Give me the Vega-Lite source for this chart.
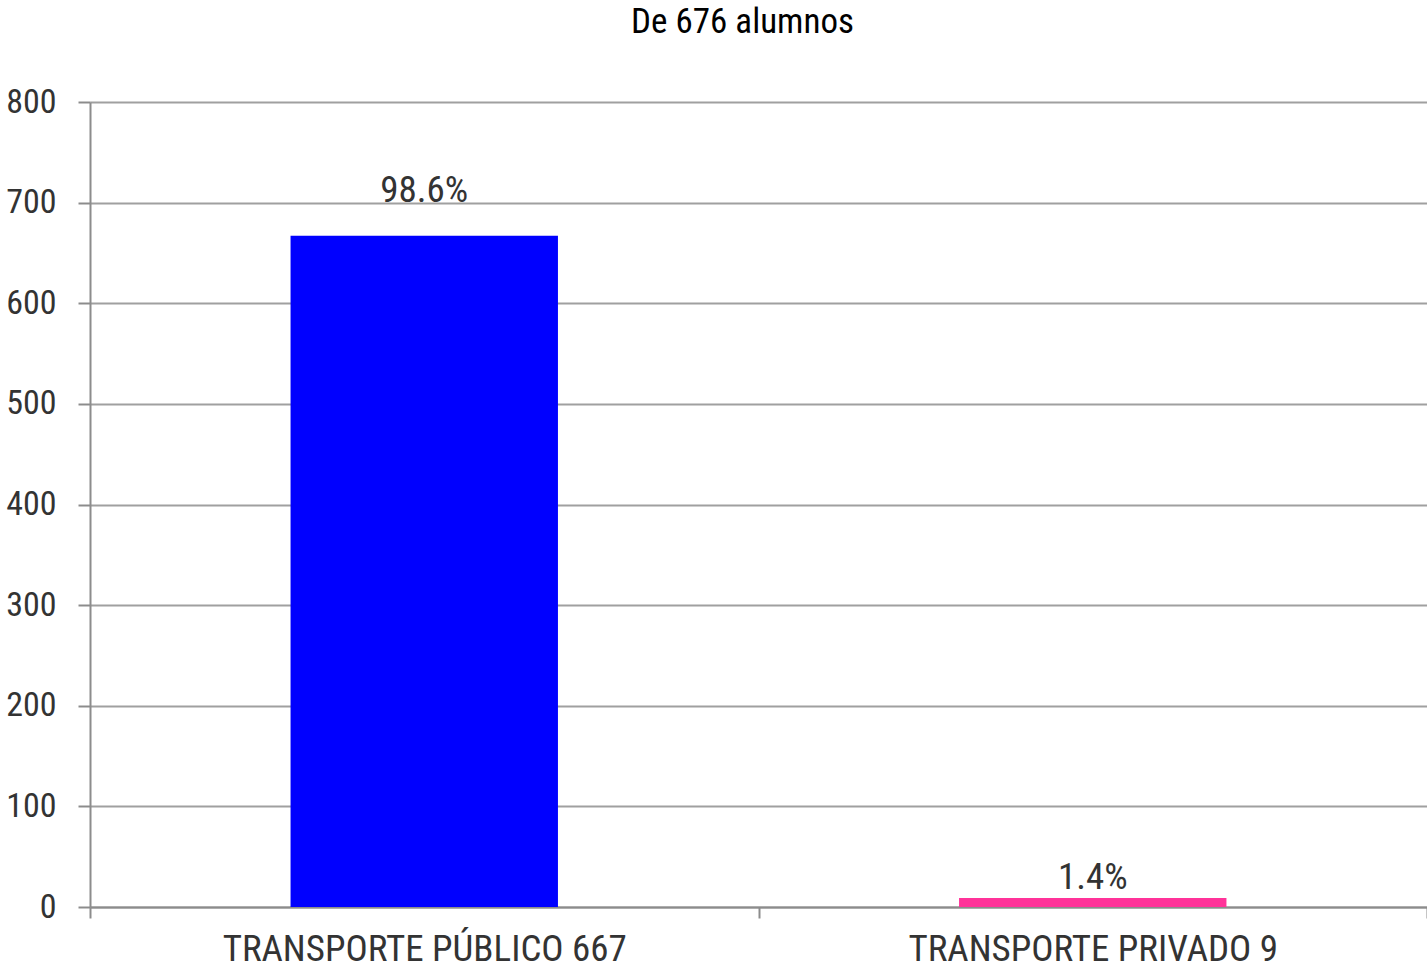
{
  "$schema": "https://vega.github.io/schema/vega-lite/v6.json",
  "autosize": {"type": "none"},
  "padding": {"left": 90, "top": 102, "right": 0, "bottom": 62},
  "width": 1337,
  "height": 805,
  "background": "white",
  "title": {"text": "De 676 alumnos", "fontSize": 35, "fontWeight": "normal", "color": "#000000", "offset": 45, "dx": -16},
  "config": {
    "font": "Arial Narrow, Liberation Sans Narrow, Roboto Condensed, DejaVu Sans Condensed, Liberation Sans, sans-serif",
    "view": {"stroke": null}
  },
  "data": {"values": [
    {"categoria": "TRANSPORTE PÚBLICO 667", "alumnos": 667, "porcentaje": "98.6%"},
    {"categoria": "TRANSPORTE PRIVADO 9", "alumnos": 9, "porcentaje": "1.4%"}
  ]},
  "encoding": {
    "x": {"field": "categoria", "type": "nominal", "sort": null,
      "scale": {"paddingInner": 0, "paddingOuter": 0},
      "axis": {"title": null, "labelAngle": 0, "labelFontSize": 37, "labelColor": "#333333", "labelPadding": 13, "labelLimit": 0,
        "tickBand": "extent", "ticks": true, "tickSize": 11, "tickColor": "#8c8c8c", "tickWidth": 2,
        "domainColor": "#8c8c8c", "domainWidth": 2, "grid": false}},
    "y": {"field": "alumnos", "type": "quantitative",
      "scale": {"domain": [0, 800], "nice": false},
      "axis": {"title": null, "values": [0,100,200,300,400,500,600,700,800], "labelFontSize": 34, "labelColor": "#333333", "labelPadding": 22,
        "tickSize": 12, "tickColor": "#8c8c8c", "tickWidth": 2, "domainColor": "#8c8c8c", "domainWidth": 2,
        "grid": true, "gridColor": "#a0a0a0", "gridWidth": 2}}
  },
  "layer": [
    {"mark": {"type": "bar", "width": {"band": 0.4}},
     "encoding": {"color": {"field": "categoria", "type": "nominal", "legend": null,
        "scale": {"domain": ["TRANSPORTE PÚBLICO 667", "TRANSPORTE PRIVADO 9"], "range": ["#0000ff", "#ff3399"]}}}},
    {"transform": [{"filter": "datum.alumnos > 100"}],
     "mark": {"type": "text", "baseline": "alphabetic", "dy": -34, "fontSize": 37, "color": "#333333"},
     "encoding": {"text": {"field": "porcentaje"}}},
    {"transform": [{"filter": "datum.alumnos <= 100"}],
     "mark": {"type": "text", "baseline": "alphabetic", "dy": -9, "fontSize": 37, "color": "#333333"},
     "encoding": {"text": {"field": "porcentaje"}}}
  ]
}
